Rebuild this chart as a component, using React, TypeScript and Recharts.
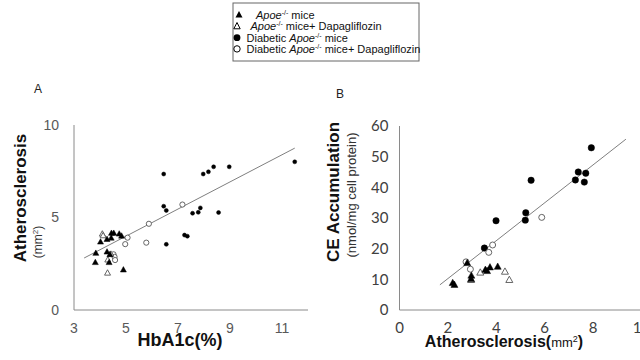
import React from 'react';
import { ScatterChart, Scatter, XAxis, YAxis } from 'recharts';

// ---- Panel A data: HbA1c(%) vs Atherosclerosis (mm2)
const apoeA: number[][] = [
  [3.84, 3.1], [3.82, 2.6], [4.02, 3.71], [4.27, 3.85], [4.44, 4.18], [4.53, 4.18],
  [4.43, 3.92], [4.74, 4.14], [4.83, 4.03], [4.27, 3.17], [4.38, 3.03], [4.35, 2.6], [4.9, 2.2],
];
const apoeDapaA: number[][] = [[4.09, 4.14], [4.12, 4.05], [4.3, 2.74], [4.29, 2.03], [4.42, 3.05]];
const diabA: number[][] = [
  [6.45, 7.35], [6.45, 5.61], [6.55, 5.38], [6.55, 3.55], [7.25, 4.05], [7.36, 3.99],
  [7.56, 5.23], [7.78, 5.28], [7.86, 5.52], [7.97, 7.35], [8.17, 7.47], [8.37, 7.74],
  [8.97, 7.74], [8.56, 5.27], [11.49, 8.01],
];
const diabDapaA: number[][] = [
  [5.06, 3.91], [4.97, 3.56], [5.78, 3.64], [5.88, 4.66], [7.17, 5.7], [4.52, 3.01], [4.56, 2.87], [4.58, 2.7],
];
const trendA: number[][] = [[3.39, 2.81], [11.49, 8.75]];
const xTicksA = [3, 5, 7, 9, 11];
const yTicksA = [0, 5, 10];

// ---- Panel B data: Atherosclerosis (mm2) vs CE Accumulation
const apoeB: number[][] = [
  [2.8, 15.5], [2.2, 9.0], [2.27, 8.4], [2.97, 11.4], [2.96, 10.3], [3.55, 13.3], [3.62, 12.9], [3.74, 14.1], [4.06, 14.3],
];
const apoeDapaB: number[][] = [[2.96, 10.0], [3.34, 12.4], [4.36, 12.7], [4.54, 10.0]];
const diabB: number[][] = [
  [3.51, 20.2], [3.99, 29.1], [5.22, 31.7], [5.2, 29.3], [5.44, 42.3], [7.27, 42.4], [7.39, 45.0], [7.7, 44.6], [7.64, 41.7], [7.93, 52.9],
];
const diabDapaB: number[][] = [[2.75, 15.7], [2.93, 13.3], [3.69, 18.8], [3.85, 21.2], [5.88, 30.2]];
const trendB: number[][] = [[1.67, 8.2], [9.36, 55.7]];
const xTicksB = [0, 2, 4, 6, 8, 10];
const yTicksB = [0, 10, 20, 30, 40, 50, 60];

const legendLabels = [
  { pre: '', post: ' mice' },
  { pre: '', post: ' mice+ Dapagliflozin' },
  { pre: 'Diabetic ', post: ' mice' },
  { pre: 'Diabetic ', post: ' mice+ Dapagliflozin' },
];

const pts = (a: number[][]) => a.map(([x, y]) => ({ x, y }));

const AXIS = '#8a8a8a';
const OPEN = '#555';

const tri = (filled: boolean, w: number) => (p: any) => {
  const { cx, cy } = p;
  const h = w * 0.9;
  return (
    <polygon
      points={`${cx},${cy - h / 2} ${cx - w / 2},${cy + h / 2} ${cx + w / 2},${cy + h / 2}`}
      fill={filled ? '#000' : '#fff'}
      stroke={filled ? '#000' : OPEN}
      strokeWidth={filled ? 0.5 : 0.9}
    />
  );
};
const circ = (filled: boolean, r: number) => (p: any) => {
  const { cx, cy } = p;
  return <circle cx={cx} cy={cy} r={r} fill={filled ? '#000' : '#fff'} stroke={filled ? '#000' : OPEN} strokeWidth={filled ? 0.5 : 0.9} />;
};
const none = () => <g />;

const LegendText = ({ x, y, pre, post }: any) => (
  <text x={x} y={y}>
    {pre ? <tspan>{pre}</tspan> : null}
    <tspan fontStyle="italic">Apoe</tspan>
    <tspan fontSize={7} dy={-4}>-/-</tspan>
    <tspan dy={4}>{post}</tspan>
  </text>
);

const legendRows = [
  { ty: 18.7, tx: 256 },
  { ty: 30, tx: 250.5 },
  { ty: 41.7, tx: 246.5 },
  { ty: 52.7, tx: 246.5 },
];

export default function App() {
  return (
    <div style={{ position: 'absolute', left: 0, top: 0, width: 640, height: 360, overflow: 'hidden', background: '#fff', fontFamily: '"Liberation Sans", Arial, sans-serif' }}>
      <div style={{ position: 'absolute', left: 0, top: 0 }}>
        <ScatterChart width={320} height={360} margin={{ top: 125, right: 12, bottom: 20, left: 14 }}>
          <XAxis type="number" dataKey="x" domain={[3, 12]} ticks={xTicksA} interval={0} tickLine={false}
            tickMargin={7} axisLine={{ stroke: AXIS }} tick={{ fill: '#595959', fontSize: 14 }} height={30} />
          <YAxis type="number" dataKey="y" domain={[0, 10]} ticks={yTicksA} interval={0} tickLine={false}
            tickMargin={9} axisLine={{ stroke: AXIS }} tick={{ fill: '#595959', fontSize: 14 }} width={60} />
          <Scatter data={pts(trendA)} line={{ stroke: '#7f7f7f', strokeWidth: 1 }} shape={none} isAnimationActive={false} />
          <Scatter data={pts(diabA)} shape={circ(true, 2)} isAnimationActive={false} />
          <Scatter data={pts(diabDapaA)} shape={circ(false, 2.6)} isAnimationActive={false} />
          <Scatter data={pts(apoeDapaA)} shape={tri(false, 6)} isAnimationActive={false} />
          <Scatter data={pts(apoeA)} shape={tri(true, 6)} isAnimationActive={false} />
        </ScatterChart>
      </div>
      <div style={{ position: 'absolute', left: 320, top: 0 }}>
        <ScatterChart width={340} height={360} margin={{ top: 126, right: 18.6, bottom: 20, left: 19.5 }}>
          <XAxis type="number" dataKey="x" domain={[0, 10]} ticks={xTicksB} interval={0} tickLine={false}
            tickMargin={6} axisLine={{ stroke: AXIS }} tick={{ fill: '#404040', fontSize: 15, fontFamily: 'Lato, "Open Sans", sans-serif' }} height={30} />
          <YAxis type="number" dataKey="y" domain={[0, 60]} ticks={yTicksB} interval={0} tickLine={false}
            tickMargin={5} axisLine={{ stroke: AXIS }} tick={{ fill: '#404040', fontSize: 15, fontFamily: 'Lato, "Open Sans", sans-serif' }} width={60} />
          <Scatter data={pts(trendB)} line={{ stroke: '#7f7f7f', strokeWidth: 1 }} shape={none} isAnimationActive={false} />
          <Scatter data={pts(diabB)} shape={circ(true, 3.2)} isAnimationActive={false} />
          <Scatter data={pts(diabDapaB)} shape={circ(false, 3)} isAnimationActive={false} />
          <Scatter data={pts(apoeDapaB)} shape={tri(false, 7)} isAnimationActive={false} />
          <Scatter data={pts(apoeB)} shape={tri(true, 7)} isAnimationActive={false} />
        </ScatterChart>
      </div>
      <svg width={640} height={360} style={{ position: 'absolute', left: 0, top: 0, pointerEvents: 'none' }} fontFamily='"Liberation Sans", Arial, sans-serif'>
        {/* legend */}
        <rect x={233} y={3} width={186} height={58} fill="none" stroke="#666" strokeWidth={1} />
        <g fontSize={11} fill="#111">
          <polygon points="239,11 235.5,17.5 242.5,17.5" fill="#000" />
          <polygon points="237,22.5 233.8,28.8 240.2,28.8" fill="#fff" stroke="#000" strokeWidth={1} />
          <circle cx={237} cy={37.7} r={3.4} fill="#000" />
          <circle cx={237} cy={48.9} r={3.2} fill="#fff" stroke="#000" strokeWidth={1} />
          {legendLabels.map((l, i) => (
            <LegendText key={i} x={legendRows[i].tx} y={legendRows[i].ty} pre={l.pre} post={l.post} />
          ))}
        </g>
        {/* panel letters */}
        <text x={38} y={93} fontSize={12} textAnchor="middle" fill="#222">A</text>
        <text x={340} y={97.5} fontSize={12} textAnchor="middle" fill="#222">B</text>
        {/* panel A axis titles */}
        <text transform="translate(26,198) rotate(-90)" textAnchor="middle" fontSize={17} fontWeight="bold" fill="#111">Atherosclerosis</text>
        <text transform="translate(41.5,242) rotate(-90)" textAnchor="middle" fontSize={12} fill="#333">
          <tspan>(mm</tspan>
          <tspan fontSize={8} dy={-4}>2</tspan>
          <tspan dy={4}>)</tspan>
        </text>
        <text x={180} y={346} textAnchor="middle" fontSize={18} fontWeight="bold" fill="#111">HbA1c(%)</text>
        {/* panel B axis titles */}
        <text transform="translate(339,192) rotate(-90)" textAnchor="middle" fontSize={17} fontWeight="bold" fill="#111">CE Accumulation</text>
        <text transform="translate(356,195) rotate(-90)" textAnchor="middle" fontSize={13} fill="#333">(nmol/mg cell protein)</text>
        <text x={504} y={347} textAnchor="middle" fill="#111">
          <tspan fontSize={16} fontWeight="bold">Atherosclerosis(</tspan>
          <tspan fontSize={13}>mm</tspan>
          <tspan fontSize={9} dy={-5}>2</tspan>
          <tspan fontSize={16} fontWeight="bold" dy={5}>)</tspan>
        </text>
      </svg>
    </div>
  );
}
